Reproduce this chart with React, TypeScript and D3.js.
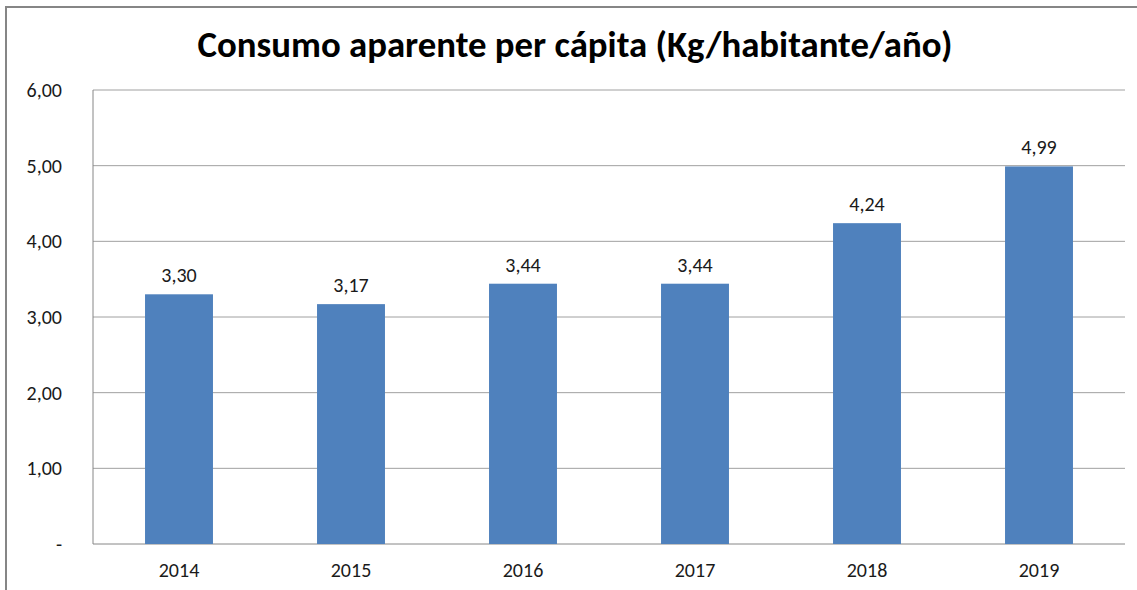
import React from "react";
import * as d3 from "d3";

const years = ["2014", "2015", "2016", "2017", "2018", "2019"];
const consumo = [3.3, 3.17, 3.44, 3.44, 4.24, 4.99];
const yTicks = [0, 1, 2, 3, 4, 5, 6];

const W = 1137;
const H = 590;
const margin = { top: 90, right: 12, bottom: 46, left: 93 };
const font = "Carlito, Calibri, Lato, sans-serif";

// 3,30 style numbers, "-" for zero
const fmt = (v: number) => (v === 0 ? "-" : v.toFixed(2).replace(".", ","));

export default function App() {
  const x = d3
    .scaleBand()
    .domain(years)
    .range([margin.left, W - margin.right])
    .paddingInner(0.605)
    .paddingOuter(0.3025);
  const y = d3
    .scaleLinear()
    .domain([0, 6])
    .range([H - margin.bottom, margin.top]);

  return (
    <svg
      width={W}
      height={H}
      style={{ position: "absolute", left: 0, top: 0, background: "#fff" }}
    >
      {/* outer chart border */}
      <path d={`M6,${H} V7 H${W}`} fill="none" stroke="#868686" strokeWidth={2} />

      <text
        x={575}
        y={57}
        textAnchor="middle"
        fontFamily={font}
        fontWeight="bold"
        fontSize={36.8}
        fill="#000"
      >
        Consumo aparente per cápita (Kg/habitante/año)
      </text>

      {/* gridlines */}
      {yTicks.map((t) => (
        <line
          key={t}
          x1={margin.left}
          x2={W - margin.right}
          y1={y(t)}
          y2={y(t)}
          stroke={t === 0 ? "#868686" : "#a0a0a0"}
          strokeWidth={1}
        />
      ))}
      <line
        x1={margin.left}
        x2={margin.left}
        y1={y(6)}
        y2={y(0)}
        stroke="#868686"
        strokeWidth={1}
      />

      {yTicks.map((t) => (
        <text
          key={t}
          x={62}
          y={y(t) + 7}
          textAnchor="end"
          fontFamily={font}
          fontSize={20}
          fill="#1a1a1a"
        >
          {fmt(t)}
        </text>
      ))}

      {years.map((yr, i) => (
        <g key={yr}>
          <rect
            x={x(yr)}
            y={y(consumo[i])}
            width={x.bandwidth()}
            height={y(0) - y(consumo[i])}
            fill="#4F81BD"
          />
          <text
            x={(x(yr) ?? 0) + x.bandwidth() / 2}
            y={y(consumo[i]) - 12}
            textAnchor="middle"
            fontFamily={font}
            fontSize={20}
            fill="#1a1a1a"
          >
            {fmt(consumo[i])}
          </text>
          <text
            x={(x(yr) ?? 0) + x.bandwidth() / 2}
            y={577}
            textAnchor="middle"
            fontFamily={font}
            fontSize={20}
            fill="#1a1a1a"
          >
            {yr}
          </text>
        </g>
      ))}
    </svg>
  );
}
